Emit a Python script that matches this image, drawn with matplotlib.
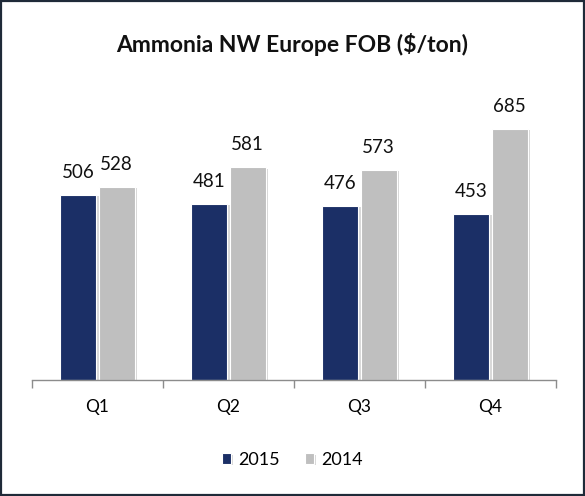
import matplotlib
matplotlib.use("Agg")
from matplotlib import pyplot as plt
from matplotlib import patheffects as pe
from matplotlib.patches import Rectangle
import numpy as np

quarters = ["Q1", "Q2", "Q3", "Q4"]
series_names = ["2015", "2014"]
values_2015 = [506, 481, 476, 453]
values_2014 = [528, 581, 573, 685]
colors = ["#1b2f66", "#bfbfbf"]

plt.rcParams["font.family"] = ["Lato", "DejaVu Sans"]

fig = plt.figure(figsize=(5.85, 4.96), dpi=100)
W, H = 585, 496
ax = fig.add_axes([32 / W, (H - 380) / H, 524 / W, 300 / H])

x = np.arange(len(quarters))
bw = 0.275
shadow = [pe.SimplePatchShadow(offset=(1.5, -1), shadow_rgbFace="#b0b0b0", alpha=0.5), pe.Normal()]

for i, (vals, name, col) in enumerate(zip([values_2015, values_2014], series_names, colors)):
    offs = (i - 0.5) * (bw + 0.016)
    bars = ax.bar(x + offs, vals, bw, color=col, label=name,
                  edgecolor="white", linewidth=0.8, path_effects=shadow)
    for b, v in zip(bars, vals):
        ax.annotate(str(v), (b.get_x() + b.get_width() / 2, v),
                    xytext=(0, 10), textcoords="offset points",
                    ha="center", va="bottom", fontsize=13.5, color="#111111")

ax.set_xlim(-0.5, len(quarters) - 0.5)
ax.set_ylim(0, 300 / 0.3664)
ax.set_xticks(x)
ax.set_xticklabels(quarters, fontsize=12.5)
ax.set_xticks(np.arange(len(quarters) + 1) - 0.5, minor=True)
ax.tick_params(axis="x", which="major", length=0, pad=14)
ax.tick_params(axis="x", which="minor", length=6, color="#8c8c8c", width=1)
ax.set_yticks([])
for s in ["top", "right", "left"]:
    ax.spines[s].set_visible(False)
ax.spines["bottom"].set_color("#8c8c8c")
ax.spines["bottom"].set_linewidth(1)

fig.text(0.5, (H - 45) / H, "Ammonia NW Europe FOB ($/ton)", ha="center", va="center",
         fontsize=16.5, fontweight="bold", color="#111111")

fig.legend(loc="center", bbox_to_anchor=(0.5, (H - 460) / H), ncol=2, frameon=False,
           fontsize=13, handlelength=0.5, handleheight=0.5, handletextpad=0.4,
           columnspacing=1.4)

fig.add_artist(Rectangle((0.002, 0.002), 0.996, 0.996, transform=fig.transFigure,
                         fill=False, edgecolor="#1f2a38", linewidth=1.6))

fig.savefig("out.png", dpi=100)
